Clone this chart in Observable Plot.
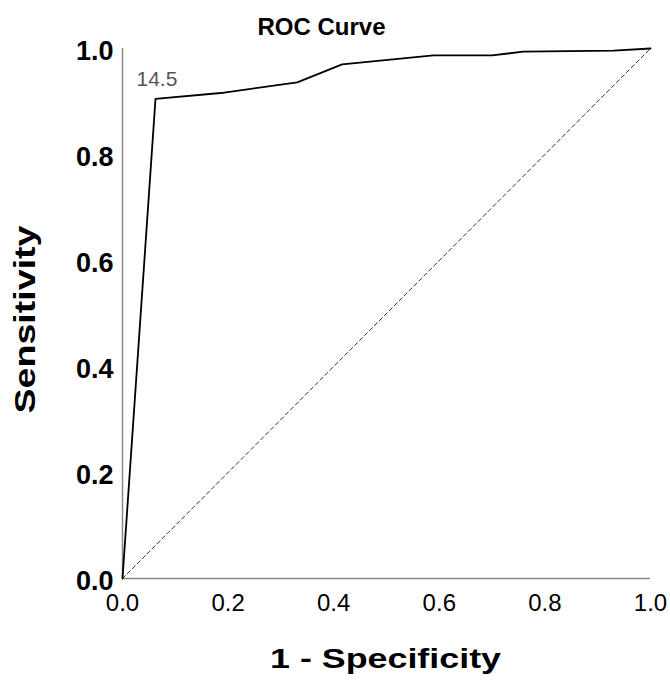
<!DOCTYPE html>
<html>
<head>
<meta charset="utf-8">
<script src="https://cdn.jsdelivr.net/npm/d3@7"></script>
<script src="https://cdn.jsdelivr.net/npm/@observablehq/plot@0.6"></script>
<style>
  html, body { margin: 0; padding: 0; background: #fff; }
  #chart { width: 670px; height: 680px; }
</style>
</head>
<body>
<div id="chart"></div>
<script>
// ROC curve: 1 - Specificity vs Sensitivity
const fpr = [0, 0.0625, 0.186, 0.331, 0.416, 0.589, 0.700, 0.759, 0.930, 1.0];
const tpr = [0, 0.905, 0.916, 0.936, 0.970, 0.987, 0.987, 0.994, 0.996, 1.0];
const refLine = [0, 1];
const tickValues = [0, 0.2, 0.4, 0.6, 0.8, 1.0];
const cutoffLabel = "14.5";
const cutoffIndex = 1;
const titleText = "ROC Curve";
const xLabel = "1 - Specificity";
const yLabel = "Sensitivity";

const curve = fpr.map((x, i) => ({x, y: tpr[i]}));
const diag = refLine.map(v => ({x: v, y: v}));

const chart = Plot.plot({
  width: 670,
  height: 680,
  marginLeft: 122,
  marginRight: 20,
  marginTop: 48,
  marginBottom: 102,
  style: {fontFamily: "'Liberation Sans', Arial, sans-serif", color: "#000", background: "#fff"},
  x: {domain: [0, 1]},
  y: {domain: [0, 1]},
  marks: [
    Plot.axisY({ticks: tickValues, tickSize: 0, tickPadding: 9, fontSize: 27, fontWeight: "bold", dy: 3, tickFormat: d3.format(".1f"), label: null}),
    Plot.axisX({ticks: tickValues, tickSize: 0, tickPadding: 15, fontSize: 24, tickFormat: d3.format(".1f"), label: null}),
    Plot.ruleX([0], {stroke: "#8a8a8a", strokeWidth: 1.5}),
    Plot.ruleY([0], {stroke: "#8a8a8a", strokeWidth: 1.5}),
    Plot.line(diag, {x: "x", y: "y", stroke: "#333", strokeWidth: 1, strokeDasharray: "4,3"}),
    Plot.line(curve, {x: "x", y: "y", stroke: "#000", strokeWidth: 1.8}),
    Plot.text([curve[cutoffIndex]], {x: "x", y: "y", text: () => cutoffLabel, textAnchor: "start", lineAnchor: "bottom", dx: -19, dy: -13, fontSize: 21, fill: "#555"}),
    Plot.text([titleText], {frameAnchor: "top", text: d => d, dx: -65, dy: -14, lineAnchor: "bottom", fontSize: 23, fontWeight: "bold", className: "ttl"}),
    Plot.text([xLabel], {frameAnchor: "bottom", text: d => d, dx: -1, dy: 89, lineAnchor: "bottom", fontSize: 28, fontWeight: "bold", className: "xlab"}),
    Plot.text([yLabel], {frameAnchor: "left", text: d => d, textAnchor: "middle", dx: -97, dy: 6, rotate: -90, lineAnchor: "middle", fontSize: 30, fontWeight: "bold", className: "ylab"})
  ]
});
document.getElementById("chart").appendChild(chart);
d3.select(chart).selectAll(".xlab text").attr("textLength", 231).attr("lengthAdjust", "spacingAndGlyphs");
d3.select(chart).selectAll(".ylab text").attr("textLength", 188).attr("lengthAdjust", "spacingAndGlyphs");
d3.select(chart).selectAll(".ttl text").attr("textLength", 128).attr("lengthAdjust", "spacingAndGlyphs");
</script>
</body>
</html>
